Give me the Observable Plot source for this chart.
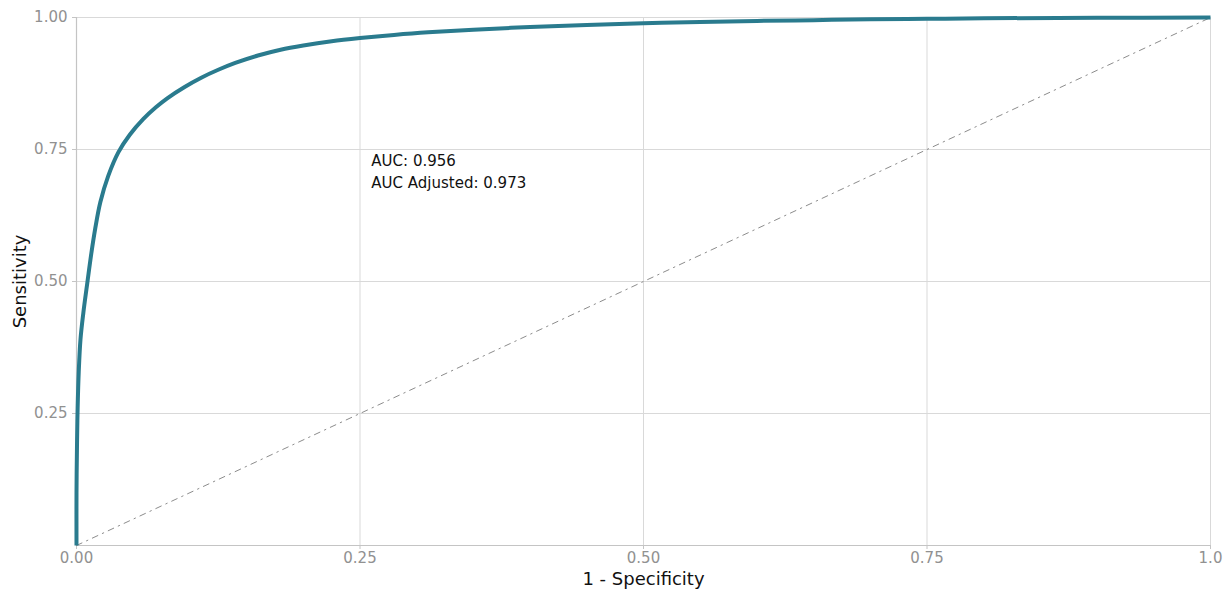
<!DOCTYPE html>
<html>
<head>
<meta charset="utf-8">
<script src="https://cdn.jsdelivr.net/npm/d3@7"></script>
<script src="https://cdn.jsdelivr.net/npm/@observablehq/plot@0.6"></script>
<style>
  html, body { margin: 0; padding: 0; background: #fff; }
  #chart { width: 1228px; height: 590px; }
</style>
</head>
<body>
<div id="chart"></div>
<script>
// ROC curve values
const fpr = [0, 0, 0.0005, 0.001, 0.002, 0.0035, 0.006, 0.0097, 0.013, 0.0165, 0.021, 0.028, 0.037, 0.047, 0.059, 0.07, 0.08, 0.095, 0.11, 0.125, 0.14, 0.16, 0.18, 0.2, 0.225, 0.25, 0.28, 0.31, 0.35, 0.4, 0.45, 0.5, 0.55, 0.6, 0.65, 0.7, 0.75, 0.8, 0.9, 1.0];
const tpr = [0, 0.1, 0.2, 0.26, 0.33, 0.39, 0.44, 0.5, 0.552, 0.6, 0.65, 0.70, 0.745, 0.778, 0.808, 0.83, 0.847, 0.868, 0.886, 0.901, 0.914, 0.928, 0.939, 0.947, 0.955, 0.961, 0.967, 0.972, 0.977, 0.982, 0.986, 0.989, 0.9915, 0.9935, 0.995, 0.9965, 0.9975, 0.9985, 0.9995, 1.0];

const xTicks = [0, 0.25, 0.5, 0.75, 1];
const xTickLabels = ["0.00", "0.25", "0.50", "0.75", "1.0"];
const yTicks = [0.25, 0.5, 0.75, 1];
const yTickLabels = ["0.25", "0.50", "0.75", "1.00"];

const diagonal = [0, 1];
const annotX = 0.26;
const annotY = 0.749;
const annotLines = ["AUC: 0.956", "AUC Adjusted: 0.973"];

const xLabel = "1 - Specificity";
const yLabel = "Sensitivity";

const roc = fpr.map((f, i) => ({ fpr: f, tpr: tpr[i] }));
const diag = diagonal.map(v => ({ x: v, y: v }));

const gridColor = "#d9d9d9";
const axisColor = "#c4c4c4";
const tickTextColor = "#919191";

const chart = Plot.plot({
  width: 1228,
  height: 590,
  marginLeft: 76,
  marginRight: 18,
  marginTop: 17,
  marginBottom: 45,
  style: { fontFamily: "DejaVu Sans", background: "#fff", overflow: "visible" },
  x: { domain: [0, 1] },
  y: { domain: [0, 1] },
  marks: [
    Plot.gridX(xTicks, { stroke: gridColor, strokeOpacity: 1, strokeWidth: 1 }),
    Plot.gridY(yTicks, { stroke: gridColor, strokeOpacity: 1, strokeWidth: 1 }),
    Plot.ruleX([0], { stroke: axisColor, strokeWidth: 1.2 }),
    Plot.ruleY([0], { stroke: axisColor, strokeWidth: 1.2 }),
    Plot.axisX(xTicks, {
      tickFormat: (d) => xTickLabels[xTicks.indexOf(d)],
      tickSize: 4, tickPadding: 3, stroke: axisColor, color: tickTextColor,
      fontSize: 15, label: xLabel, labelAnchor: "center", labelArrow: "none",
      labelOffset: 39
    }),
    Plot.axisY(yTicks, {
      tickFormat: d => yTickLabels[yTicks.indexOf(d)],
      tickSize: 4, tickPadding: 5, stroke: axisColor, color: tickTextColor,
      fontSize: 15, label: null
    }),
    Plot.line(diag, { x: "x", y: "y", stroke: "#8c8c8c", strokeWidth: 1, strokeDasharray: "6,5,1.5,5" }),
    Plot.line(roc, { x: "fpr", y: "tpr", curve: "catmull-rom", stroke: "#2a7b8e", strokeWidth: 4, strokeLinejoin: "round", strokeLinecap: "butt" }),
    Plot.text([annotLines.join("\n")], {
      x: annotX, y: annotY, text: d => d, textAnchor: "start", lineAnchor: "top",
      fontSize: 15, fill: "#111", lineHeight: 1.47
    }),
    Plot.text([yLabel], {
      frameAnchor: "left", textAnchor: "middle", dx: -56, rotate: -90, text: d => d, fontSize: 18, fill: "#111"
    })
  ]
});

// style the x label
chart.querySelectorAll("g[aria-label='x-axis label'] text").forEach(t => {
  t.setAttribute("font-size", 18);
  t.setAttribute("fill", "#111");
  t.style.fill = "#111";
});
document.getElementById("chart").appendChild(chart);
</script>
</body>
</html>
